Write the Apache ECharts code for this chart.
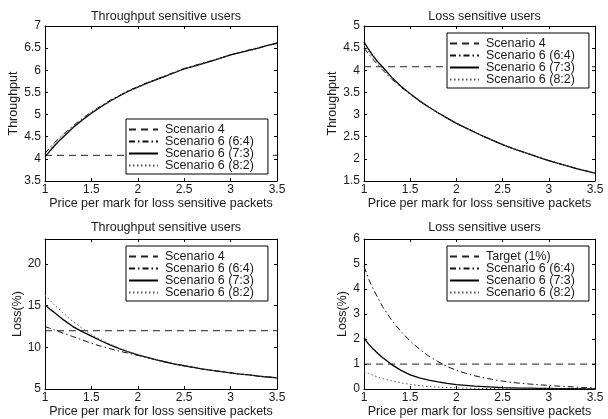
<!DOCTYPE html>
<html>
<head>
<meta charset="utf-8">
<script src="https://cdn.jsdelivr.net/npm/echarts@6/dist/echarts.min.js"></script>
<style>html,body{margin:0;padding:0;background:#fff}#c{width:608px;height:419px}</style>
</head>
<body>
<div id="c"></div>
<script>
// ---- data ----
const xs = [1.0,1.05,1.1,1.15,1.2,1.3,1.4,1.5,1.6,1.7,1.8,1.9,2.0,2.1,2.2,2.3,2.4,2.5,2.6,2.7,2.8,2.9,3.0,3.1,3.2,3.3,3.4,3.5];
const refX = [1, 3.5];
const xTicks = ['1','1.5','2','2.5','3','3.5'];

// Throughput, throughput sensitive users
const thrTS_s4 = [4.08, 4.08];
const thrTS_64 = [4.12,4.25,4.36,4.46,4.56,4.74,4.91,5.06,5.19,5.32,5.43,5.54,5.63,5.72,5.80,5.88,5.96,6.04,6.10,6.16,6.22,6.28,6.35,6.40,6.46,6.51,6.56,6.62];
const thrTS_73 = [4.05,4.17,4.29,4.40,4.50,4.70,4.87,5.03,5.17,5.30,5.42,5.53,5.62,5.71,5.79,5.87,5.95,6.03,6.09,6.15,6.21,6.28,6.35,6.40,6.45,6.50,6.56,6.61];
const thrTS_82 = [4.02,4.20,4.33,4.44,4.54,4.73,4.89,5.05,5.18,5.31,5.43,5.53,5.62,5.71,5.80,5.88,5.95,6.03,6.10,6.16,6.22,6.28,6.34,6.40,6.45,6.51,6.56,6.62];

// Throughput, loss sensitive users
const thrLS_s4 = [4.08, 4.08];
const thrLS_64 = [4.50,4.37,4.24,4.12,4.01,3.80,3.62,3.46,3.31,3.17,3.04,2.92,2.80,2.70,2.60,2.50,2.41,2.32,2.24,2.17,2.10,2.03,1.96,1.90,1.84,1.78,1.73,1.68];
const thrLS_73 = [4.64,4.47,4.32,4.19,4.08,3.84,3.64,3.47,3.31,3.17,3.04,2.92,2.80,2.70,2.60,2.50,2.41,2.32,2.24,2.17,2.10,2.03,1.96,1.90,1.84,1.78,1.73,1.68];
const thrLS_82 = [4.58,4.43,4.29,4.16,4.05,3.82,3.63,3.47,3.32,3.17,3.04,2.92,2.81,2.70,2.60,2.50,2.41,2.33,2.24,2.17,2.10,2.03,1.97,1.90,1.84,1.78,1.73,1.68];

// Loss(%), throughput sensitive users
const lossTS_s4 = [12, 12];
const lossTS_64 = [12.5,12.3,12.1,11.9,11.7,11.3,10.9,10.5,10.15,9.85,9.55,9.3,9.05,8.8,8.5,8.25,8.0,7.8,7.6,7.4,7.25,7.1,6.95,6.8,6.7,6.55,6.45,6.35];
const lossTS_73 = [15.1,14.6,14.2,13.75,13.3,12.5,11.9,11.35,10.8,10.3,9.85,9.45,9.1,8.8,8.5,8.25,8.0,7.8,7.6,7.4,7.25,7.1,6.95,6.8,6.7,6.55,6.45,6.35];
const lossTS_82 = [16.3,15.7,15.1,14.6,14.1,13.1,12.3,11.55,10.95,10.4,9.9,9.45,9.1,8.8,8.5,8.25,8.0,7.8,7.6,7.4,7.25,7.1,6.95,6.8,6.7,6.55,6.45,6.35];

// Loss(%), loss sensitive users
const lossLS_target = [1, 1];
const lossLS_64 = [4.9,4.4,4.0,3.65,3.3,2.75,2.3,1.92,1.6,1.32,1.1,0.9,0.75,0.63,0.53,0.45,0.38,0.32,0.27,0.23,0.2,0.17,0.15,0.12,0.1,0.08,0.06,0.05];
const lossLS_73 = [2.05,1.8,1.6,1.42,1.26,0.98,0.75,0.57,0.45,0.36,0.29,0.23,0.18,0.15,0.12,0.1,0.08,0.06,0.05,0.04,0.04,0.03,0.03,0.02,0.02,0.02,0.01,0.01];
const lossLS_82 = [0.7,0.62,0.55,0.48,0.42,0.33,0.25,0.19,0.14,0.1,0.08,0.06,0.05,0.04,0.03,0.03,0.02,0.02,0.02,0.01,0.01,0.01,0.01,0.01,0.01,0.01,0.01,0.01];

const titles = ['Throughput sensitive users','Loss sensitive users','Throughput sensitive users','Loss sensitive users'];
const yNames = ['Throughput','Throughput','Loss(%)','Loss(%)'];
const xName = 'Price per mark for loss sensitive packets';
const namesA = ['Scenario 4','Scenario 6 (6:4)','Scenario 6 (7:3)','Scenario 6 (8:2)'];
const namesB = ['Target (1%)','Scenario 6 (6:4)','Scenario 6 (7:3)','Scenario 6 (8:2)'];

// ---- layout / style ----
const FONT = '"Liberation Sans", Arial, Helvetica, sans-serif';
const TXT = '#1a1a1a';
const panels = [
  {grid:{left:45,top:26,width:232,height:155}, y:{min:3.5,max:7,interval:0.5}, yGap:25, title:{x:161,y:5},
   legend:{left:126,top:119}, names:namesA, ref:thrTS_s4, s:[thrTS_64,thrTS_73,thrTS_82], showMax:true},
  {grid:{left:364,top:26,width:231,height:155}, y:{min:1.5,max:5,interval:0.5}, yGap:25, title:{x:479.5,y:5},
   legend:{left:447,top:33}, names:namesA, ref:thrLS_s4, s:[thrLS_64,thrLS_73,thrLS_82], showMax:true},
  {grid:{left:45,top:239,width:232,height:153}, y:{min:5,max:23,interval:5}, yGap:20, title:{x:161,y:216},
   legend:{left:126,top:246}, names:namesA, ref:lossTS_s4, s:[lossTS_64,lossTS_73,lossTS_82], showMax:false},
  {grid:{left:364,top:239,width:231,height:153}, y:{min:0,max:6,interval:1}, yGap:14, title:{x:479.5,y:216},
   legend:{left:447,top:246}, names:namesB, ref:lossLS_target, s:[lossLS_64,lossLS_73,lossLS_82], showMax:true}
];

const lineStyles = [
  {type:[7,5], width:1, color:'#222'},
  {type:[6,3,1.5,3], width:1, color:'#111'},
  {type:'solid', width:1.3, color:'#000'},
  {type:[1.5,2.5], width:1, color:'#555'}
];

const option = {
  animation:false,
  backgroundColor:'#fff',
  textStyle:{fontFamily:FONT},
  title:[], grid:[], xAxis:[], yAxis:[], legend:[], series:[]
};

const axisLine = {show:true, onZero:false, lineStyle:{color:'#000', width:1}};
const tick = {show:true, inside:true, length:3, lineStyle:{color:'#000'}};

panels.forEach((p,i)=>{
  option.grid.push(Object.assign({containLabel:false, show:false}, p.grid));
  option.title.push({text:titles[i], left:p.title.x, top:p.title.y, textAlign:'center',
    textStyle:{fontSize:12.5, fontWeight:'normal', color:TXT, fontFamily:FONT}});
  option.xAxis.push({type:'value', gridIndex:i, min:1, max:3.5, interval:0.5, position:'bottom',
    name:xName, nameLocation:'middle', nameGap:14,
    nameTextStyle:{fontSize:12.5, color:TXT, fontFamily:FONT},
    axisLine, axisTick:tick, splitLine:{show:false},
    axisLabel:{show:true, margin:3, fontSize:12, color:TXT, fontFamily:FONT,
      formatter:(v)=>xTicks[Math.round((v-1)/0.5)]}});
  option.xAxis.push({type:'value', gridIndex:i, min:1, max:3.5, interval:0.5, position:'top',
    axisLine, axisTick:tick, splitLine:{show:false}, axisLabel:{show:false}});
  option.yAxis.push({type:'value', gridIndex:i, min:p.y.min, max:p.y.max, interval:p.y.interval, position:'left',
    name:yNames[i], nameLocation:'middle', nameGap:p.yGap,
    nameTextStyle:{fontSize:12.5, color:TXT, fontFamily:FONT},
    axisLine, axisTick:tick, splitLine:{show:false},
    axisLabel:{show:true, margin:4, fontSize:12, color:TXT, fontFamily:FONT, showMaxLabel:p.showMax}});
  option.yAxis.push({type:'value', gridIndex:i, min:p.y.min, max:p.y.max, interval:p.y.interval, position:'right',
    axisLine, axisTick:tick, splitLine:{show:false}, axisLabel:{show:false}});

  const xi = i*2, yi = i*2;
  option.series.push({type:'line', name:p.names[0], xAxisIndex:xi, yAxisIndex:yi,
    data: refX.map((x,k)=>[x,p.ref[k]]), symbol:'none', showSymbol:false, silent:true,
    lineStyle:lineStyles[0], itemStyle:{color:lineStyles[0].color}, z:3});
  p.s.forEach((arr,k)=>{
    option.series.push({type:'line', name:p.names[k+1], xAxisIndex:xi, yAxisIndex:yi,
      data: xs.map((x,j)=>[x,arr[j]]), symbol:'none', showSymbol:false, silent:true,
      lineStyle:lineStyles[k+1], itemStyle:{color:lineStyles[k+1].color}, z:3});
  });
  option.legend.push({orient:'vertical', left:p.legend.left, top:p.legend.top, align:'left',
    data:p.names, selectedMode:false, itemWidth:29, itemHeight:10, itemGap:-1,
    itemStyle:{opacity:0},
    padding:[4,14,2,2], borderColor:'#000', borderWidth:1, backgroundColor:'#fff', z:10,
    textStyle:{fontSize:12.5, lineHeight:12, color:TXT, fontFamily:FONT, padding:[0,0,0,2]}});
});

const chart = echarts.init(document.getElementById('c'), null, {renderer:'canvas'});
chart.setOption(option);
</script>
</body>
</html>
